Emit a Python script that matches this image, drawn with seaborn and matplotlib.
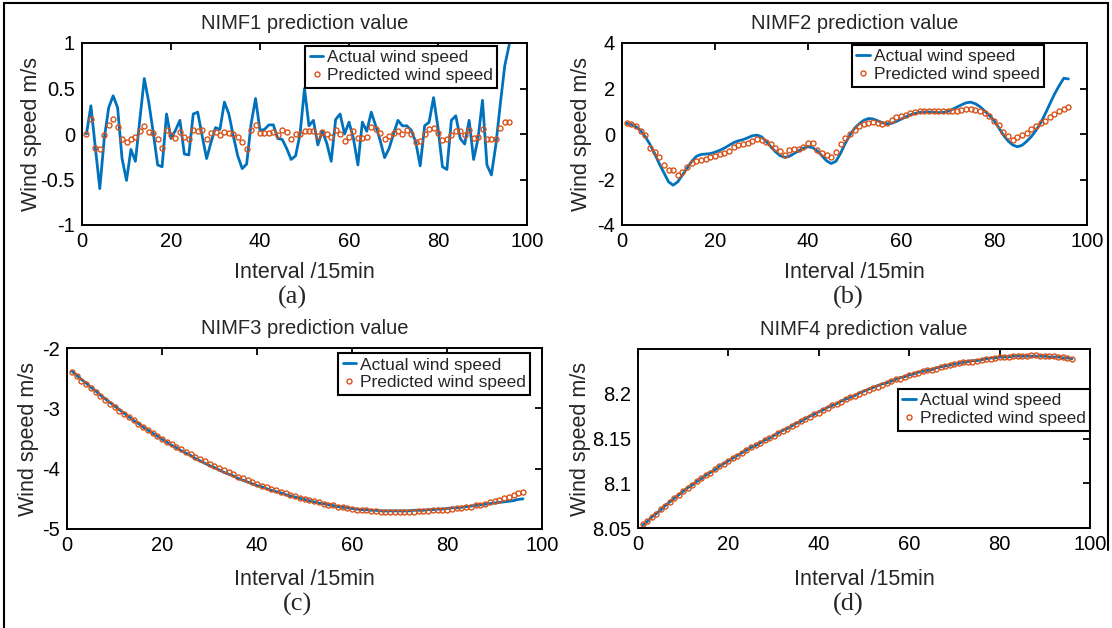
import matplotlib
matplotlib.use("Agg")
import numpy as np
import pandas as pd
import seaborn as sns
import matplotlib.pyplot as plt
from matplotlib.lines import Line2D

# ---------------- data ----------------
interval = list(range(1, 97))

nimf1_actual = [0.00, 0.31, -0.15, -0.60, -0.05, 0.29, 0.42, 0.29, -0.27, -0.51,
                -0.17, -0.30, 0.16, 0.61, 0.35, 0.02, -0.34, -0.36, 0.22, -0.05,
                0.04, 0.15, -0.22, -0.23, 0.22, 0.24, -0.02, -0.27, -0.09, 0.07,
                0.05, 0.35, 0.22, -0.02, -0.24, -0.38, -0.33, 0.11, 0.39, 0.04,
                0.05, 0.10, 0.10, -0.05, -0.06, -0.16, -0.28, -0.24, 0.00, 0.50,
                0.09, 0.15, -0.12, 0.03, -0.10, -0.30, 0.16, 0.22, 0.00, 0.13,
                -0.05, -0.34, 0.13, 0.03, 0.24, 0.09, -0.07, -0.26, -0.16, 0.00,
                0.15, 0.09, 0.09, 0.04, -0.09, -0.35, 0.09, 0.13, 0.40, 0.07,
                -0.36, -0.39, 0.15, 0.20, -0.05, -0.11, 0.15, -0.28, -0.05, 0.37,
                -0.34, -0.45, -0.12, 0.33, 0.75, 0.98]
nimf1_pred = [0.00, 0.16, -0.15, -0.16, -0.01, 0.10, 0.17, 0.08, -0.05, -0.09,
              -0.06, -0.03, 0.03, 0.09, 0.02, 0.01, -0.06, -0.15, 0.04, -0.01,
              -0.04, 0.02, -0.03, -0.05, 0.04, 0.03, 0.04, -0.05, 0.01, 0.02,
              -0.01, 0.02, 0.01, 0.00, -0.03, -0.09, -0.16, 0.04, 0.10, 0.01,
              0.01, 0.01, 0.02, -0.01, 0.04, 0.02, -0.05, 0.00, 0.00, 0.03,
              0.03, 0.03, -0.02, 0.02, 0.00, -0.03, 0.04, 0.00, -0.08, -0.03,
              0.03, -0.04, -0.04, -0.03, 0.08, 0.06, 0.01, -0.05, -0.02, 0.01,
              0.03, 0.00, 0.04, 0.00, -0.09, -0.08, 0.00, 0.05, 0.07, 0.01,
              -0.07, -0.05, -0.01, 0.03, 0.03, -0.01, 0.04, -0.04, -0.03, 0.05,
              -0.05, -0.06, -0.05, 0.07, 0.13, 0.13]

nimf2_actual = [0.47, 0.42, 0.32, 0.15, -0.12, -0.45, -0.85, -1.30, -1.70, -2.10,
                -2.25, -2.10, -1.80, -1.50, -1.20, -0.98, -0.90, -0.88, -0.86, -0.80,
                -0.72, -0.62, -0.50, -0.38, -0.30, -0.25, -0.17, -0.08, -0.05, -0.12,
                -0.32, -0.56, -0.78, -0.95, -1.03, -0.98, -0.86, -0.74, -0.62, -0.56,
                -0.60, -0.74, -0.96, -1.18, -1.30, -1.20, -0.85, -0.42, -0.05, 0.25,
                0.45, 0.60, 0.68, 0.66, 0.58, 0.50, 0.45, 0.47, 0.55, 0.65,
                0.75, 0.84, 0.90, 0.95, 0.97, 0.97, 0.96, 0.94, 0.95, 0.99,
                1.08, 1.18, 1.28, 1.37, 1.40, 1.33, 1.20, 1.01, 0.82, 0.59,
                0.28, -0.04, -0.30, -0.48, -0.56, -0.50, -0.33, -0.12, 0.15, 0.47,
                0.88, 1.32, 1.75, 2.12, 2.45, 2.42]
nimf2_pred = [0.47, 0.44, 0.35, 0.15, -0.03, -0.62, -0.78, -1.00, -1.38, -1.59,
              -1.59, -1.81, -1.66, -1.47, -1.26, -1.18, -1.15, -1.12, -1.00, -0.97,
              -0.90, -0.85, -0.74, -0.56, -0.49, -0.44, -0.41, -0.29, -0.24, -0.26,
              -0.34, -0.44, -0.63, -0.74, -0.93, -0.71, -0.68, -0.65, -0.59, -0.38,
              -0.41, -0.71, -0.82, -0.93, -1.00, -0.79, -0.44, -0.19, 0.00, 0.18,
              0.35, 0.44, 0.50, 0.53, 0.50, 0.44, 0.47, 0.62, 0.74, 0.79,
              0.85, 0.91, 0.97, 1.00, 1.01, 1.03, 1.00, 0.99, 1.00, 1.03,
              1.03, 1.03, 1.06, 1.09, 1.12, 1.06, 1.00, 0.91, 0.79, 0.59,
              0.40, 0.09, -0.09, -0.26, -0.15, -0.04, 0.06, 0.24, 0.35, 0.47,
              0.59, 0.76, 0.88, 1.00, 1.09, 1.18]

nimf3_actual = [-2.38, -2.45, -2.52, -2.58, -2.65, -2.71, -2.78, -2.84, -2.90, -2.96,
                -3.02, -3.08, -3.14, -3.20, -3.25, -3.31, -3.36, -3.41, -3.46, -3.51,
                -3.56, -3.61, -3.65, -3.70, -3.74, -3.78, -3.83, -3.87, -3.91, -3.95,
                -3.98, -4.02, -4.06, -4.09, -4.12, -4.16, -4.19, -4.22, -4.25, -4.28,
                -4.30, -4.33, -4.36, -4.38, -4.40, -4.43, -4.45, -4.47, -4.49, -4.51,
                -4.53, -4.55, -4.57, -4.58, -4.60, -4.61, -4.63, -4.64, -4.65, -4.66,
                -4.67, -4.68, -4.68, -4.69, -4.69, -4.70, -4.70, -4.70, -4.70, -4.70,
                -4.70, -4.70, -4.69, -4.69, -4.69, -4.68, -4.68, -4.67, -4.67, -4.66,
                -4.65, -4.65, -4.64, -4.63, -4.62, -4.61, -4.60, -4.59, -4.58, -4.57,
                -4.56, -4.55, -4.54, -4.53, -4.51, -4.50]
nimf3_pred = [-2.40, -2.47, -2.54, -2.60, -2.67, -2.73, -2.80, -2.86, -2.92, -2.98,
              -3.04, -3.09, -3.15, -3.20, -3.26, -3.31, -3.36, -3.41, -3.46, -3.50,
              -3.55, -3.59, -3.64, -3.68, -3.72, -3.76, -3.80, -3.84, -3.88, -3.92,
              -3.96, -3.99, -4.03, -4.06, -4.09, -4.13, -4.16, -4.19, -4.22, -4.25,
              -4.28, -4.30, -4.33, -4.36, -4.38, -4.41, -4.43, -4.45, -4.48, -4.50,
              -4.52, -4.54, -4.56, -4.58, -4.60, -4.61, -4.63, -4.64, -4.66, -4.67,
              -4.68, -4.69, -4.69, -4.70, -4.70, -4.71, -4.71, -4.71, -4.71, -4.71,
              -4.71, -4.71, -4.71, -4.70, -4.70, -4.70, -4.69, -4.69, -4.68, -4.68,
              -4.67, -4.66, -4.65, -4.64, -4.63, -4.61, -4.60, -4.58, -4.56, -4.54,
              -4.52, -4.49, -4.47, -4.44, -4.41, -4.38]

nimf4_actual = [8.053, 8.057, 8.062, 8.066, 8.070, 8.075, 8.079, 8.083, 8.087, 8.091,
                8.095, 8.098, 8.102, 8.105, 8.109, 8.112, 8.115, 8.119, 8.122, 8.125,
                8.128, 8.131, 8.134, 8.137, 8.140, 8.142, 8.145, 8.148, 8.150, 8.153,
                8.156, 8.159, 8.161, 8.164, 8.167, 8.169, 8.172, 8.175, 8.177, 8.180,
                8.182, 8.185, 8.187, 8.189, 8.192, 8.194, 8.196, 8.198, 8.201, 8.203,
                8.205, 8.207, 8.209, 8.211, 8.212, 8.214, 8.216, 8.218, 8.219, 8.221,
                8.222, 8.224, 8.225, 8.226, 8.227, 8.229, 8.230, 8.231, 8.232, 8.233,
                8.234, 8.235, 8.236, 8.237, 8.237, 8.238, 8.239, 8.240, 8.240, 8.241,
                8.241, 8.241, 8.242, 8.242, 8.242, 8.242, 8.242, 8.242, 8.242, 8.242,
                8.241, 8.241, 8.241, 8.240, 8.240, 8.239]
nimf4_pred = [8.055, 8.058, 8.062, 8.066, 8.071, 8.075, 8.079, 8.083, 8.087, 8.091,
              8.095, 8.098, 8.102, 8.106, 8.109, 8.112, 8.116, 8.119, 8.122, 8.125,
              8.128, 8.131, 8.134, 8.137, 8.140, 8.143, 8.145, 8.148, 8.151, 8.153,
              8.156, 8.158, 8.161, 8.164, 8.166, 8.169, 8.172, 8.174, 8.177, 8.179,
              8.182, 8.184, 8.187, 8.189, 8.191, 8.194, 8.196, 8.198, 8.200, 8.202,
              8.204, 8.206, 8.208, 8.210, 8.212, 8.214, 8.216, 8.217, 8.219, 8.221,
              8.222, 8.223, 8.225, 8.226, 8.227, 8.228, 8.230, 8.231, 8.232, 8.233,
              8.234, 8.235, 8.236, 8.236, 8.237, 8.238, 8.239, 8.239, 8.240, 8.241,
              8.241, 8.241, 8.242, 8.242, 8.242, 8.242, 8.243, 8.243, 8.242, 8.242,
              8.242, 8.242, 8.241, 8.241, 8.240, 8.239]

titles = ["NIMF1 prediction value", "NIMF2 prediction value",
          "NIMF3 prediction value", "NIMF4 prediction value"]
panel_labels = ["(a)", "(b)", "(c)", "(d)"]
series_names = ["Actual wind speed", "Predicted wind speed"]
xlabel_text = "Interval /15min"
ylabel_text = "Wind speed m/s"
x_ticks = [0, 20, 40, 60, 80, 100]
y_ticks = [[-1, -0.5, 0, 0.5, 1], [-4, -2, 0, 2, 4], [-5, -4, -3, -2],
           [8.05, 8.1, 8.15, 8.2]]
y_ticklabels = [["-1", "-0.5", "0", "0.5", "1"], ["-4", "-2", "0", "2", "4"],
                ["-5", "-4", "-3", "-2"], ["8.05", "8.1", "8.15", "8.2"]]
y_limits = [(-1, 1), (-4, 4), (-5, -2), (8.05, 8.25)]

# ---------------- style ----------------
sns.set_theme(style="white")
plt.rcParams["font.family"] = ["Liberation Sans", "DejaVu Sans"]
plt.rcParams["axes.unicode_minus"] = False

BLUE = "#0072BD"
ORANGE = "#D95319"
W, H = 1112, 628

fig = plt.figure(figsize=(W / 100, H / 100), dpi=100)
fig.patch.set_facecolor("white")


def px_rect(left, top, right, bottom):
    return [left / W, 1 - bottom / H, (right - left) / W, (bottom - top) / H]


rects = [px_rect(82, 43, 527, 225), px_rect(622, 43, 1087, 225),
         px_rect(67, 348, 542, 529), px_rect(638, 349, 1090, 528)]
legend_anchor = [(0.933, 0.984), (0.9075, 0.989), (0.975, 0.972), (1.0, 0.777)]
ylabel_x = [-0.091, -0.065, -0.059, -0.104]
xlabel_y = [-0.203, -0.203, -0.221, -0.229]
label_pos = [(292, 297), (848, 297), (298, 604), (848, 604)]

actuals = [nimf1_actual, nimf2_actual, nimf3_actual, nimf4_actual]
preds = [nimf1_pred, nimf2_pred, nimf3_pred, nimf4_pred]

for i in range(4):
    ax = fig.add_axes(rects[i])
    df = pd.DataFrame({"Interval": interval, "Actual": actuals[i], "Predicted": preds[i]})
    sns.lineplot(data=df, x="Interval", y="Actual", ax=ax, color=BLUE, linewidth=2.0,
                 errorbar=None, label=series_names[0], legend=False)
    sns.lineplot(data=df, x="Interval", y="Predicted", ax=ax, color=ORANGE,
                 linestyle="none", marker="o", markersize=3.6, markerfacecolor="none",
                 markeredgecolor=ORANGE, markeredgewidth=1.0, errorbar=None,
                 label=series_names[1], legend=False)
    ax.set_xlim(0, 100)
    ax.set_ylim(*y_limits[i])
    ax.set_xticks(x_ticks)
    ax.set_xticklabels([str(t) for t in x_ticks])
    ax.set_yticks(y_ticks[i])
    ax.set_yticklabels(y_ticklabels[i])
    ax.tick_params(direction="in", length=5, width=1.3, top=True, right=True,
                   labelsize=14.5, pad=5, colors="black")
    for sp in ax.spines.values():
        sp.set_linewidth(1.4)
        sp.set_color("black")
    ax.set_title(titles[i], fontsize=14.5, pad=10)
    ax.set_xlabel(xlabel_text, fontsize=15.5)
    ax.set_ylabel(ylabel_text, fontsize=15.5)
    ax.xaxis.set_label_coords(0.5, xlabel_y[i])
    ax.yaxis.set_label_coords(ylabel_x[i], 0.5)
    handles, labels = ax.get_legend_handles_labels()
    leg = ax.legend(handles, labels, loc="upper right", bbox_to_anchor=legend_anchor[i],
                    borderaxespad=0, frameon=True, fancybox=False, framealpha=1,
                    edgecolor="black", fontsize=12.5, handlelength=0.8,
                    handletextpad=0.2, borderpad=0.25, labelspacing=0.15)
    leg.get_frame().set_linewidth(1.5)
    fig.text(label_pos[i][0] / W, 1 - label_pos[i][1] / H, panel_labels[i],
             ha="center", va="center", fontsize=19,
             family=["Liberation Serif", "DejaVu Serif"])

# outer frame
fig.add_artist(Line2D([4 / W, 1108 / W], [1 - 3 / H, 1 - 3 / H],
                      transform=fig.transFigure, color="black", lw=1.5))
fig.add_artist(Line2D([4 / W, 4 / W], [1 - 3 / H, 0],
                      transform=fig.transFigure, color="black", lw=1.5))
fig.add_artist(Line2D([1108 / W, 1108 / W], [1 - 3 / H, 1 - 550 / H],
                      transform=fig.transFigure, color="black", lw=1.5))

fig.savefig("out.png", dpi=100, facecolor="white")
